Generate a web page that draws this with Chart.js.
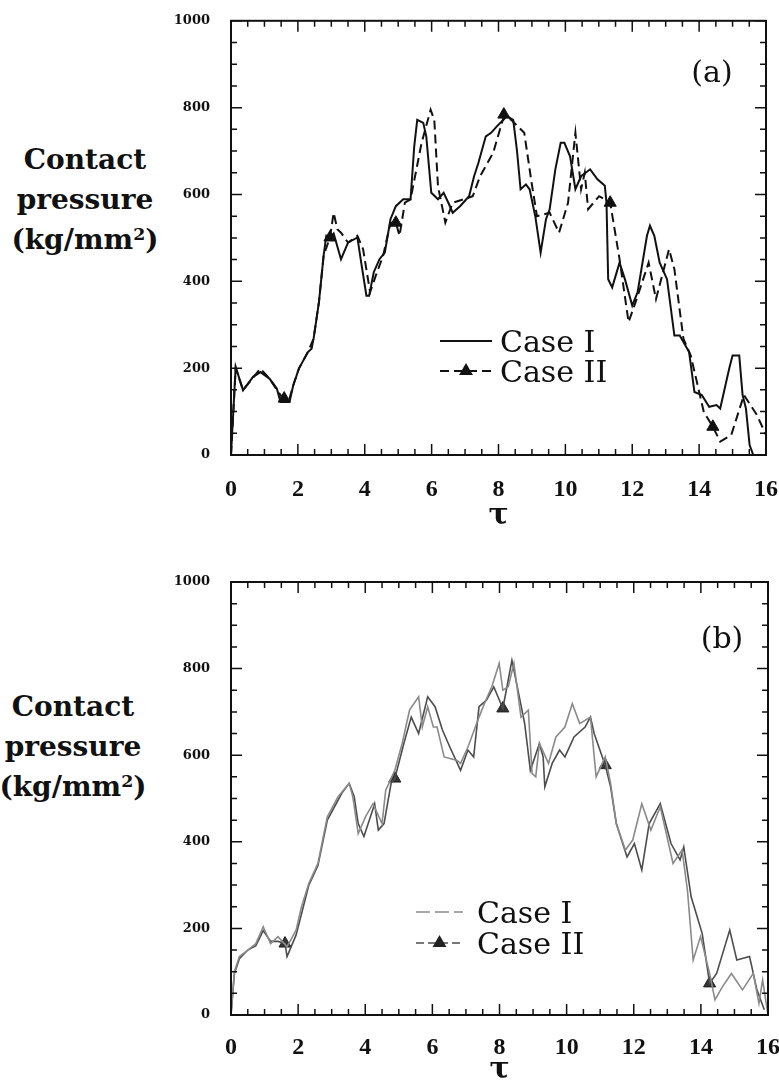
<!DOCTYPE html>
<html>
<head>
<meta charset="utf-8">
<script src="https://cdn.jsdelivr.net/npm/chart.js@4/dist/chart.umd.min.js"></script>
<style>
  body { margin: 0; background: #fff; width: 779px; height: 1089px; position: relative; overflow: hidden; }
  canvas { position: absolute; left: 0; }
  #chartA { top: 0; }
  #chartB { top: 545px; }
  .ytitle {
    position: absolute; width: 170px; text-align: center; color: #111;
    font-family: "DejaVu Serif", serif; font-weight: bold; font-size: 28px; line-height: 40px;
  }
  .ytitle span { position: relative; top: -0.5em; font-size: 0.62em; }
</style>
</head>
<body>
<div class="ytitle" style="left:0px; top:140px;">Contact<br>pressure<br>(kg/mm<span>2</span>)</div>
<div class="ytitle" style="left:-12px; top:687px;">Contact<br>pressure<br>(kg/mm<span>2</span>)</div>
<canvas id="chartA" width="790" height="540"></canvas>
<canvas id="chartB" width="790" height="544"></canvas>
<script>
// ---- panel (a) ----
const tauA1 = [0, 0.14, 0.36, 0.66, 0.88, 1.15, 1.37, 1.48, 1.75, 1.86, 2.03, 2.3, 2.41, 2.47, 2.63, 2.77, 2.85, 2.96, 3.07, 3.29,
  3.5, 3.78, 3.9, 4.05, 4.13, 4.27, 4.44, 4.6, 4.77, 4.93, 5.15, 5.37, 5.48, 5.57, 5.75, 5.84, 5.99, 6.19, 6.36, 6.5,
  6.63, 6.85, 7.12, 7.27, 7.4, 7.62, 7.78, 7.95, 8.25, 8.44, 8.55, 8.66, 8.82, 8.93, 9.1, 9.26, 9.42, 9.53, 9.7, 9.86,
  9.97, 10.14, 10.3, 10.47, 10.74, 10.96, 11.18, 11.23, 11.28, 11.4, 11.62, 11.78, 12.0, 12.16, 12.44, 12.53, 12.66, 12.82, 13.04, 13.26,
  13.42, 13.7, 13.86, 14.08, 14.3, 14.52, 14.63, 14.9, 15.0, 15.2, 15.3, 15.4, 15.51, 15.62];
const presA1 = [0, 203, 149, 180, 191, 176, 153, 122, 122, 160, 199, 237, 245, 268, 352, 459, 505, 501, 510, 451,
  489, 501, 440, 367, 367, 421, 451, 466, 543, 573, 589, 589, 711, 772, 765, 734, 604, 589, 604, 581,
  558, 573, 596, 642, 673, 734, 742, 757, 780, 772, 703, 612, 623, 612, 550, 466, 543, 566, 658, 719,
  719, 688, 612, 642, 658, 635, 620, 581, 405, 386, 443, 405, 344, 375, 505, 528, 505, 443, 405, 275,
  275, 237, 145, 138, 111, 115, 107, 199, 229, 229, 138, 107, 23, 0];

const tauA2 = [0, 0.14, 0.36, 0.66, 0.88, 1.15, 1.37, 1.59, 1.75, 1.86, 2.03, 2.3, 2.47, 2.63, 2.77, 2.96, 3.07, 3.18, 3.29, 3.5,
  3.78, 3.95, 4.16, 4.33, 4.55, 4.77, 4.93, 5.04, 5.2, 5.37, 5.7, 5.97, 6.08, 6.19, 6.41, 6.63, 6.96, 7.23, 7.45, 7.84,
  8.16, 8.38, 8.77, 8.99, 9.15, 9.53, 9.81, 10.08, 10.3, 10.47, 10.58, 10.68, 11.01, 11.34, 11.62, 11.89, 12.1, 12.49, 12.71, 13.1,
  13.26, 13.53, 13.75, 14.14, 14.41, 14.63, 14.96, 15.34, 15.73, 16];
const presA2 = [0, 200, 150, 178, 199, 176, 150, 126, 130, 160, 199, 237, 268, 352, 459, 501, 558, 520, 512, 489,
  505, 474, 375, 413, 459, 535, 535, 505, 581, 589, 719, 795, 772, 619, 535, 581, 589, 596, 642, 696,
  780, 772, 742, 627, 550, 558, 512, 581, 742, 612, 650, 566, 596, 581, 451, 306, 352, 443, 359, 474,
  428, 268, 229, 99, 65, 31, 46, 138, 92, 46];
const markTauA = [1.59, 2.96, 4.93, 8.16, 11.34, 14.41];
const markPresA = [130, 501, 535, 784, 581, 65];

// ---- panel (b) ----
const tauB1 = [0, 0.1, 0.25, 0.5, 0.74, 0.96, 1.18, 1.4, 1.67, 1.94, 2.1, 2.32, 2.59, 2.87, 3.19, 3.52, 3.63, 3.79, 4.01, 4.23,
  4.5, 4.61, 4.88, 5.1, 5.32, 5.59, 5.7, 5.86, 6.03, 6.14, 6.35, 6.74, 6.84, 7.06, 7.39, 7.55, 7.77, 7.99, 8.1, 8.26,
  8.43, 8.64, 8.86, 8.97, 9.08, 9.19, 9.46, 9.68, 9.95, 10.17, 10.39, 10.71, 10.88, 11.15, 11.31, 11.48, 11.75, 11.97, 12.24, 12.51,
  12.79, 13.17, 13.44, 13.6, 13.77, 13.99, 14.26, 14.42, 14.64, 14.91, 15.24, 15.56, 15.73, 15.84, 16];
const presB1 = [0, 100, 135, 150, 165, 204, 165, 181, 158, 196, 250, 304, 350, 458, 504, 535, 504, 419, 458, 488,
  442, 519, 565, 627, 704, 735, 665, 712, 665, 665, 596, 588, 581, 619, 688, 719, 758, 812, 750, 758,
  812, 688, 704, 558, 550, 627, 581, 642, 665, 719, 673, 688, 550, 596, 535, 442, 381, 404, 488, 427,
  481, 350, 381, 288, 127, 181, 96, 35, 65, 96, 58, 96, 27, 81, 0];

const tauB2 = [0, 0.1, 0.25, 0.5, 0.74, 0.96, 1.18, 1.4, 1.61, 1.67, 1.94, 2.32, 2.59, 2.87, 3.3, 3.52, 3.67, 3.79, 3.96, 4.12,
  4.28, 4.39, 4.56, 4.77, 4.88, 5.15, 5.37, 5.59, 5.86, 6.08, 6.3, 6.52, 6.84, 7.06, 7.23, 7.39, 7.61, 7.83, 8.1, 8.37,
  8.53, 8.75, 8.92, 9.19, 9.3, 9.35, 9.57, 9.79, 9.95, 10.22, 10.55, 10.71, 10.82, 11.15, 11.31, 11.48, 11.8, 12.02, 12.24, 12.46,
  12.79, 13.11, 13.38, 13.49, 13.71, 14.04, 14.26, 14.47, 14.86, 15.07, 15.45, 15.67, 15.89];
const presB2 = [0, 95, 130, 150, 160, 195, 170, 170, 165, 135, 185, 300, 345, 450, 512, 535, 505, 442, 412, 450,
  488, 427, 442, 535, 546, 627, 688, 650, 735, 712, 658, 619, 565, 612, 596, 712, 727, 758, 708, 819,
  758, 673, 565, 627, 596, 527, 581, 612, 596, 642, 665, 688, 650, 577, 527, 442, 365, 396, 335, 442,
  488, 396, 358, 388, 273, 188, 73, 96, 196, 127, 135, 58, 12];
const markTauB = [1.61, 4.88, 8.1, 11.15, 14.26];
const markPresB = [165, 546, 708, 577, 73];

// axis ticks
const tauMax = 16, tauStep = 2, tauMinor = 0.5;
const presMax = 1000, presStep = 200, presMinor = 50;

function pts(xs, ys) {
  return xs.map((x, i) => ({ x: x, y: ys[i] }));
}

function triangle(ctx, cx, cy, r, color) {
  ctx.beginPath();
  ctx.moveTo(cx, cy - r);
  ctx.lineTo(cx - r * 0.866, cy + r * 0.5);
  ctx.lineTo(cx + r * 0.866, cy + r * 0.5);
  ctx.closePath();
  ctx.fillStyle = color;
  ctx.fill();
}

// box with inward ticks, panel tag and legend
const framePlugin = {
  id: 'frame',
  afterDatasetsDraw(chart, args, opts) {
    const { ctx, chartArea: a, scales: { x, y } } = chart;
    ctx.save();
    ctx.strokeStyle = '#111';
    ctx.lineWidth = 2;
    ctx.strokeRect(a.left, a.top, a.right - a.left, a.bottom - a.top);

    ctx.lineWidth = 1.5;
    ctx.beginPath();
    for (let v = 0; v <= tauMax; v += tauMinor) {
      const px = x.getPixelForValue(v);
      const len = v % tauStep === 0 ? 11 : 6;
      ctx.moveTo(px, a.bottom); ctx.lineTo(px, a.bottom - len);
      ctx.moveTo(px, a.top); ctx.lineTo(px, a.top + len);
    }
    for (let v = 0; v <= presMax; v += presMinor) {
      const py = y.getPixelForValue(v);
      const len = v % presStep === 0 ? 11 : 6;
      ctx.moveTo(a.left, py); ctx.lineTo(a.left + len, py);
      ctx.moveTo(a.right, py); ctx.lineTo(a.right - len, py);
    }
    ctx.stroke();

    ctx.fillStyle = '#111';
    ctx.font = '30px "DejaVu Serif"';
    ctx.textAlign = 'center';
    ctx.textBaseline = 'middle';
    ctx.fillText(opts.tag, opts.tagX, opts.tagY);

    const lg = opts.legend;
    ctx.font = '30px "DejaVu Serif"';
    ctx.textAlign = 'left';
    ctx.textBaseline = 'alphabetic';
    chart.data.datasets.filter(ds => ds.inLegend).forEach((ds, i) => {
      const yy = lg.y + i * lg.row;
      ctx.strokeStyle = ds.borderColor;
      ctx.lineWidth = ds.borderWidth;
      ctx.setLineDash(ds.sampleDash || ds.borderDash || []);
      ctx.beginPath();
      ctx.moveTo(lg.x, yy); ctx.lineTo(lg.x + lg.len, yy);
      ctx.stroke();
      ctx.setLineDash([]);
      if (ds.markColor) triangle(ctx, lg.x + lg.len / 2, yy, 8, ds.markColor);
      ctx.fillStyle = '#111';
      ctx.fillText(ds.label, lg.x + lg.len + lg.gap, yy + 11);
    });
    ctx.restore();
  }
};

function makeChart(id, datasets, frame, pad, xPad) {
  return new Chart(document.getElementById(id), {
    type: 'line',
    data: { datasets: datasets },
    options: {
      responsive: false,
      animation: false,
      layout: { padding: pad },
      plugins: { legend: { display: false }, tooltip: { enabled: false }, frame: frame },
      elements: { point: { radius: 0 }, line: { tension: 0 } },
      scales: {
        x: {
          type: 'linear', min: 0, max: tauMax,
          grid: { display: false }, border: { display: false },
          ticks: { stepSize: tauStep, padding: xPad, color: '#111',
                   font: { family: 'Liberation Serif', size: 24, weight: 'bold' } },
          title: { display: true, text: 'τ', color: '#111', padding: 0,
                   font: { family: 'DejaVu Serif', size: 30, weight: 'bold' } },
          afterFit(s) { s.height = pad.xHeight; }
        },
        y: {
          min: 0, max: presMax,
          grid: { display: false }, border: { display: false },
          ticks: { stepSize: presStep, padding: 13, color: '#111',
                   font: { family: 'DejaVu Serif', size: 13, weight: 'bold' },
                   callback: v => String(v) },
          afterFit(s) { s.width = 231; }
        }
      }
    },
    plugins: [framePlugin]
  });
}

makeChart('chartA', [
  { label: 'Case I', data: pts(tauA1, presA1), borderColor: '#111', borderWidth: 2, inLegend: true },
  { label: 'Case II', data: pts(tauA2, presA2), borderColor: '#111', borderWidth: 2, borderDash: [9, 5],
    inLegend: true, markColor: '#111' },
  { label: 'Case II markers', data: pts(markTauA, markPresA), showLine: false,
    pointStyle: 'triangle', pointRadius: 7, backgroundColor: '#111', borderColor: '#111', borderWidth: 1 }
], { tag: '(a)', tagX: 712, tagY: 74, legend: { x: 440, y: 341, row: 30, len: 52, gap: 8 } },
   { top: 17, right: 21, bottom: 6, left: 0, xHeight: 79 }, 12);

makeChart('chartB', [
  { label: 'Case I', data: pts(tauB1, presB1), borderColor: '#8a8a8a', borderWidth: 1.6, inLegend: true,
    sampleDash: [14, 5] },
  { label: 'Case II', data: pts(tauB2, presB2), borderColor: '#4d4d4d', borderWidth: 1.6, inLegend: true,
    markColor: '#222', sampleDash: [8, 4] },
  { label: 'Case II markers', data: pts(markTauB, markPresB), showLine: false,
    pointStyle: 'triangle', pointRadius: 7, backgroundColor: '#333', borderColor: '#222', borderWidth: 1 }
], { tag: '(b)', tagX: 722, tagY: 95, legend: { x: 416, y: 367, row: 31, len: 47, gap: 14 } },
   { top: 37, right: 21, bottom: 1, left: 0, xHeight: 73 }, 10);
</script>
</body>
</html>
